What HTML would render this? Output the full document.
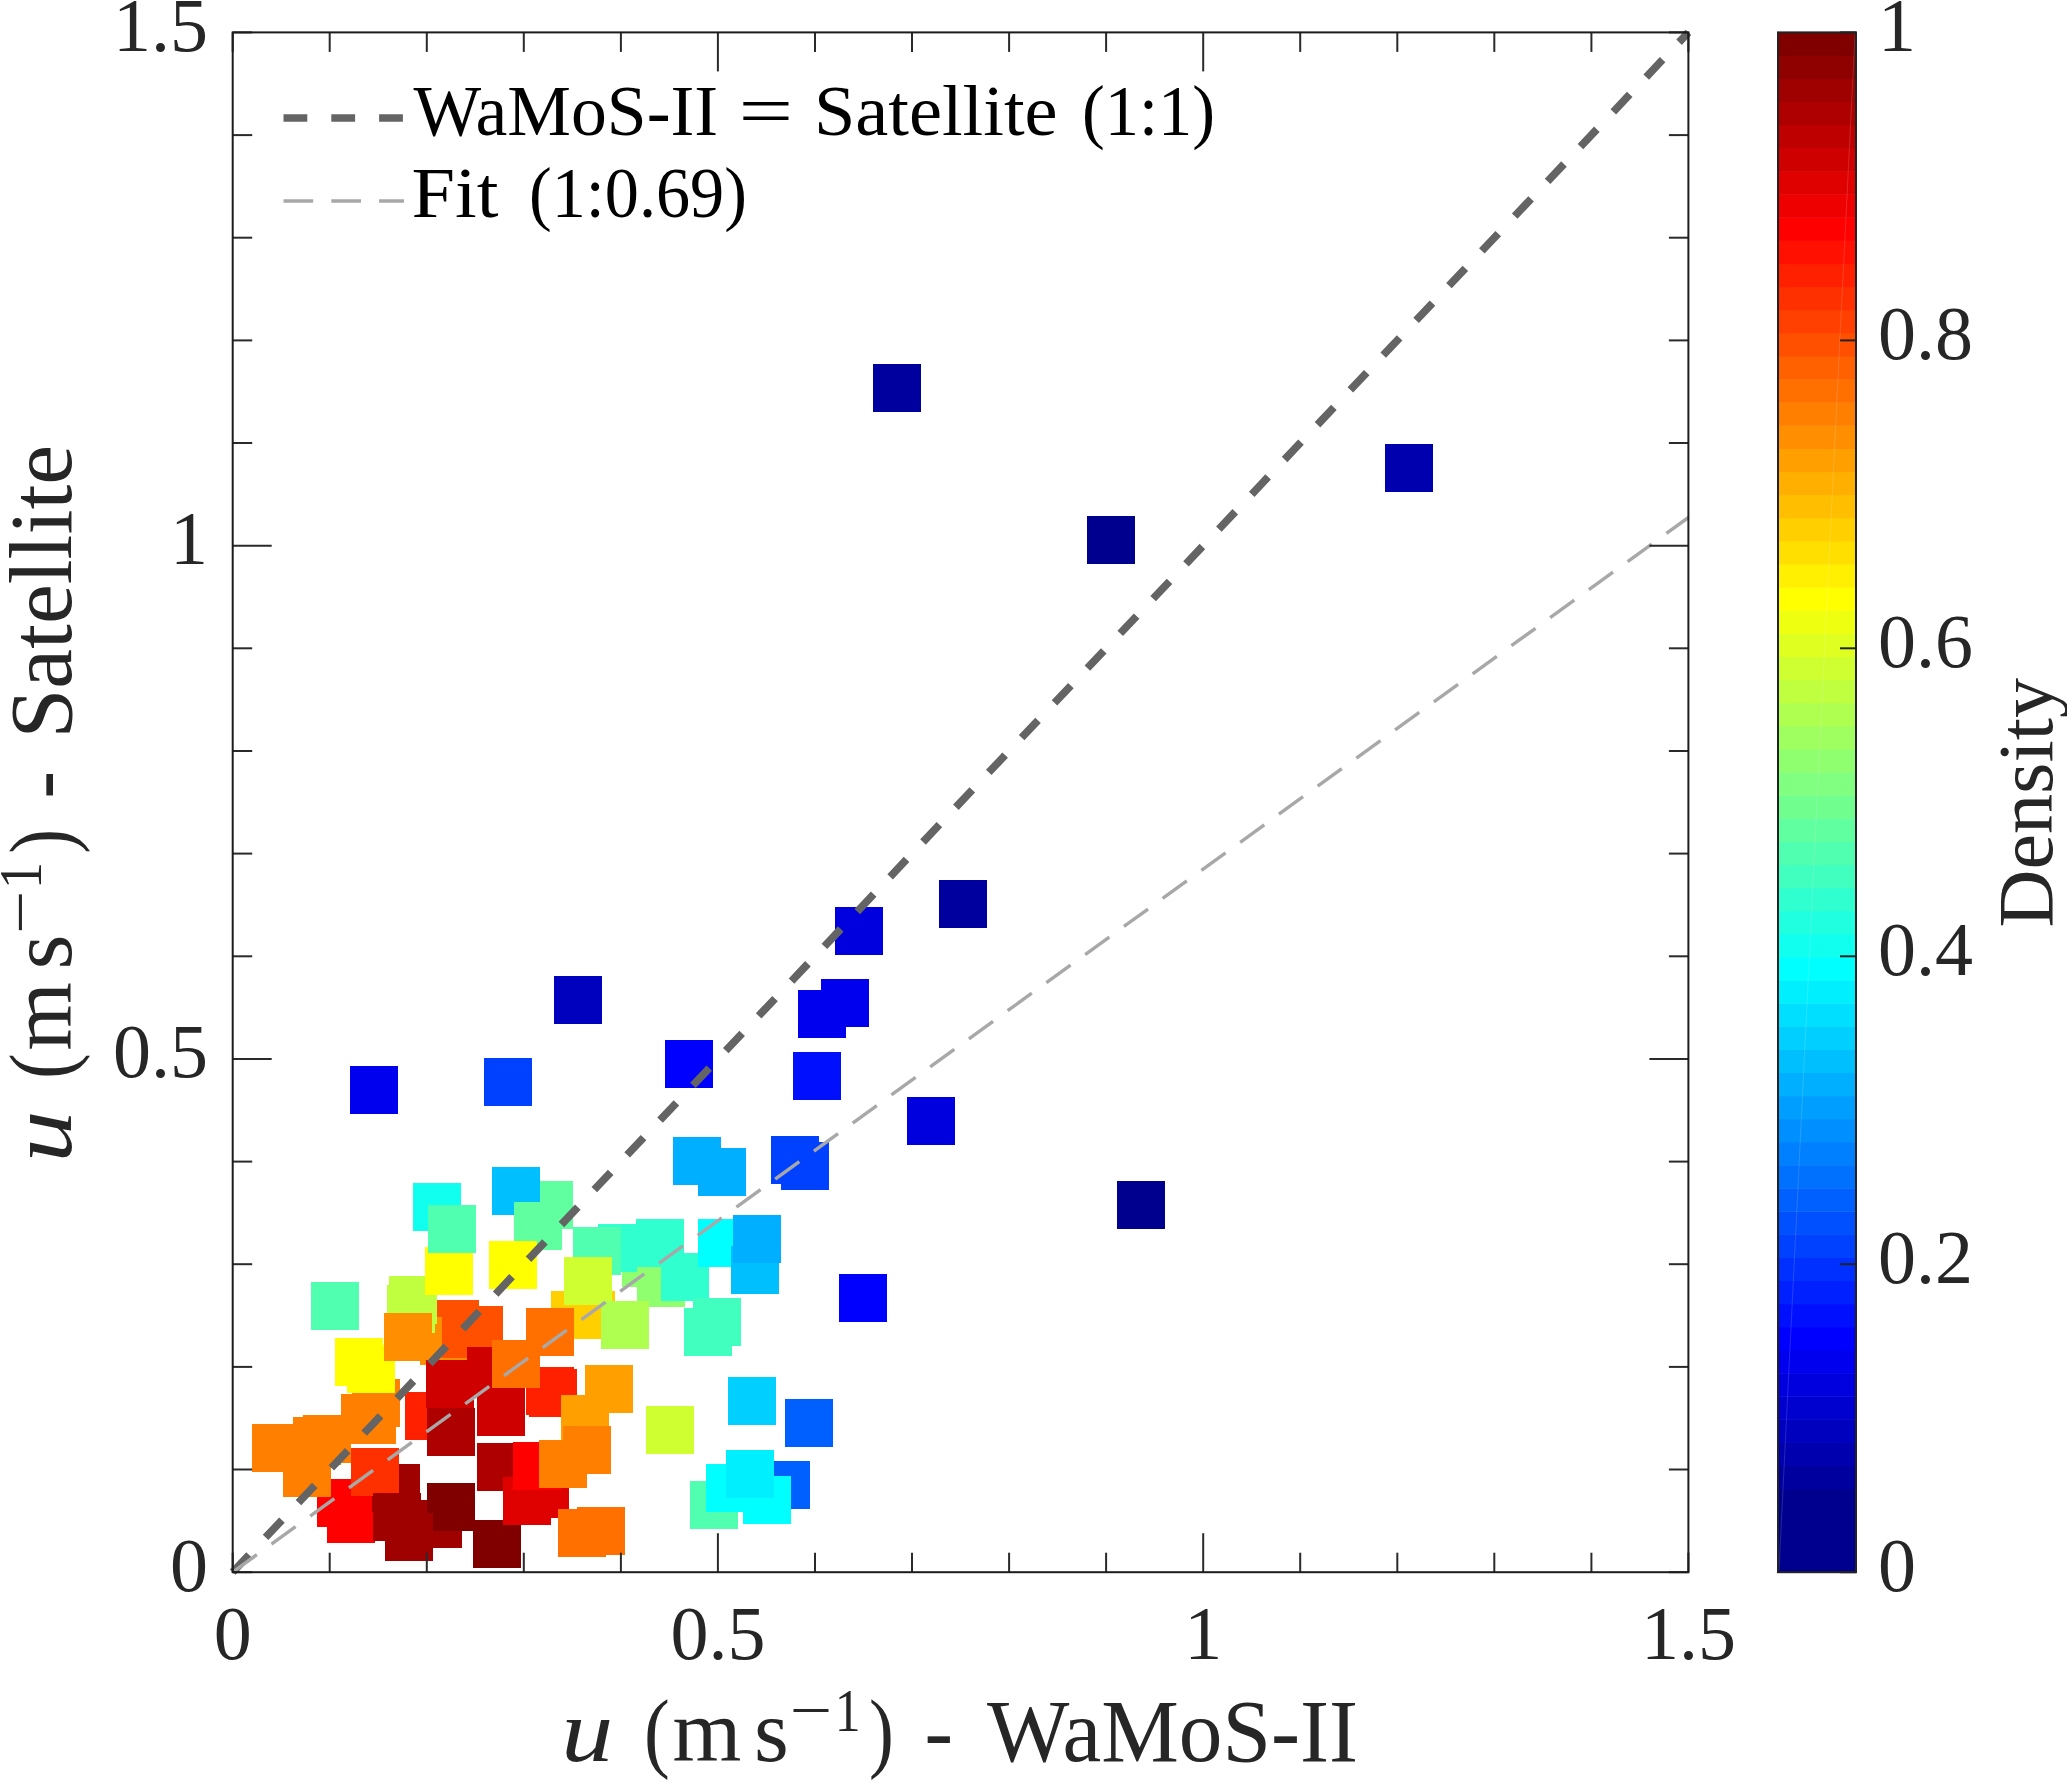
<!DOCTYPE html><html><head><meta charset="utf-8"><style>html,body{margin:0;padding:0;background:#fff;overflow:hidden}svg{display:block}text{font-family:"Liberation Serif",serif}</style></head><body>
<svg width="2067" height="1782" viewBox="0 0 2067 1782">
<rect width="2067" height="1782" fill="#fff"/>
<g shape-rendering="crispEdges">
<rect x="872.6" y="364.4" width="48" height="48" fill="#00009f"/>
<rect x="1087.0" y="515.7" width="48" height="48" fill="#00008f"/>
<rect x="1385.3" y="444.1" width="48" height="48" fill="#0000af"/>
<rect x="939.4" y="880.0" width="48" height="48" fill="#00009f"/>
<rect x="835.0" y="906.7" width="48" height="48" fill="#0000df"/>
<rect x="821.1" y="978.6" width="48" height="48" fill="#0000ef"/>
<rect x="798.2" y="990.0" width="48" height="48" fill="#0000ef"/>
<rect x="792.8" y="1052.2" width="48" height="48" fill="#0010ff"/>
<rect x="906.5" y="1097.2" width="48" height="48" fill="#0000df"/>
<rect x="770.6" y="1136.3" width="48" height="48" fill="#0040ff"/>
<rect x="781.1" y="1141.9" width="48" height="48" fill="#0040ff"/>
<rect x="1117.4" y="1180.7" width="48" height="48" fill="#00008f"/>
<rect x="553.5" y="976.0" width="48" height="48" fill="#0000bf"/>
<rect x="349.8" y="1065.5" width="48" height="48" fill="#0000ef"/>
<rect x="483.7" y="1057.8" width="48" height="48" fill="#0040ff"/>
<rect x="665.2" y="1039.9" width="48" height="48" fill="#0000ff"/>
<rect x="672.5" y="1136.8" width="48" height="48" fill="#00afff"/>
<rect x="697.9" y="1148.0" width="48" height="48" fill="#00afff"/>
<rect x="839.0" y="1274.1" width="48" height="48" fill="#0000ff"/>
<rect x="728.4" y="1377.4" width="48" height="48" fill="#00cfff"/>
<rect x="785.1" y="1399.1" width="48" height="48" fill="#0060ff"/>
<rect x="761.8" y="1460.5" width="48" height="48" fill="#0060ff"/>
<rect x="690.0" y="1480.6" width="48" height="48" fill="#50ffaf"/>
<rect x="706.0" y="1463.8" width="48" height="48" fill="#00ffff"/>
<rect x="742.9" y="1476.3" width="48" height="48" fill="#00ffff"/>
<rect x="726.1" y="1449.7" width="48" height="48" fill="#00efff"/>
<rect x="646.0" y="1405.8" width="48" height="48" fill="#cfff30"/>
<rect x="525.0" y="1181.4" width="48" height="48" fill="#60ff9f"/>
<rect x="492.0" y="1167.2" width="48" height="48" fill="#00bfff"/>
<rect x="514.0" y="1202.0" width="48" height="48" fill="#60ff9f"/>
<rect x="413.3" y="1183.2" width="48" height="48" fill="#10ffef"/>
<rect x="488.7" y="1241.4" width="48" height="48" fill="#ffff00"/>
<rect x="310.5" y="1282.0" width="48" height="48" fill="#50ffaf"/>
<rect x="431.0" y="1300.2" width="48" height="48" fill="#ff5000"/>
<rect x="419.7" y="1316.9" width="48" height="48" fill="#ff8f00"/>
<rect x="454.8" y="1305.5" width="48" height="48" fill="#ff5000"/>
<rect x="441.8" y="1309.7" width="48" height="48" fill="#ff5000"/>
<rect x="389.4" y="1276.4" width="48" height="48" fill="#bfff40"/>
<rect x="387.2" y="1285.3" width="48" height="48" fill="#bfff40"/>
<rect x="425.2" y="1247.0" width="48" height="48" fill="#ffff00"/>
<rect x="427.8" y="1204.7" width="48" height="48" fill="#50ffaf"/>
<rect x="351.9" y="1378.9" width="48" height="48" fill="#ff8000"/>
<rect x="335.2" y="1338.0" width="48" height="48" fill="#ffff00"/>
<rect x="347.0" y="1345.3" width="48" height="48" fill="#ffff00"/>
<rect x="383.6" y="1312.7" width="48" height="48" fill="#ff8f00"/>
<rect x="404.8" y="1391.5" width="48" height="48" fill="#ff2000"/>
<rect x="426.0" y="1359.7" width="48" height="48" fill="#cf0000"/>
<rect x="467.2" y="1347.0" width="48" height="48" fill="#cf0000"/>
<rect x="528.7" y="1369.3" width="48" height="48" fill="#ff2000"/>
<rect x="525.8" y="1367.4" width="48" height="48" fill="#ff2000"/>
<rect x="492.3" y="1340.2" width="48" height="48" fill="#ff7000"/>
<rect x="585.2" y="1364.7" width="48" height="48" fill="#ff9f00"/>
<rect x="560.8" y="1395.4" width="48" height="48" fill="#ff9f00"/>
<rect x="563.3" y="1425.7" width="48" height="48" fill="#ff8000"/>
<rect x="476.5" y="1387.9" width="48" height="48" fill="#cf0000"/>
<rect x="426.9" y="1407.6" width="48" height="48" fill="#af0000"/>
<rect x="477.0" y="1443.3" width="48" height="48" fill="#af0000"/>
<rect x="414.0" y="1500.3" width="48" height="48" fill="#9f0000"/>
<rect x="473.0" y="1519.8" width="48" height="48" fill="#800000"/>
<rect x="426.5" y="1483.0" width="48" height="48" fill="#800000"/>
<rect x="502.8" y="1476.5" width="48" height="48" fill="#df0000"/>
<rect x="521.0" y="1470.0" width="48" height="48" fill="#df0000"/>
<rect x="512.6" y="1441.7" width="48" height="48" fill="#ff0000"/>
<rect x="539.0" y="1440.4" width="48" height="48" fill="#ff8000"/>
<rect x="557.7" y="1508.9" width="48" height="48" fill="#ff7000"/>
<rect x="576.6" y="1507.3" width="48" height="48" fill="#ff7000"/>
<rect x="622.0" y="1238.8" width="48" height="48" fill="#8fff70"/>
<rect x="598.1" y="1224.1" width="48" height="48" fill="#30ffcf"/>
<rect x="572.9" y="1227.0" width="48" height="48" fill="#50ffaf"/>
<rect x="637.3" y="1258.6" width="48" height="48" fill="#8fff70"/>
<rect x="635.8" y="1219.0" width="48" height="48" fill="#30ffcf"/>
<rect x="661.0" y="1253.4" width="48" height="48" fill="#30ffcf"/>
<rect x="698.3" y="1218.7" width="48" height="48" fill="#00ffff"/>
<rect x="731.0" y="1246.0" width="48" height="48" fill="#00bfff"/>
<rect x="733.0" y="1214.5" width="48" height="48" fill="#00afff"/>
<rect x="692.9" y="1297.5" width="48" height="48" fill="#40ffbf"/>
<rect x="683.9" y="1307.9" width="48" height="48" fill="#40ffbf"/>
<rect x="551.4" y="1291.1" width="48" height="48" fill="#ffcf00"/>
<rect x="567.2" y="1290.6" width="48" height="48" fill="#ffcf00"/>
<rect x="525.7" y="1308.2" width="48" height="48" fill="#ff7000"/>
<rect x="563.5" y="1256.6" width="48" height="48" fill="#cfff30"/>
<rect x="601.1" y="1300.5" width="48" height="48" fill="#afff50"/>
<rect x="317.2" y="1478.9" width="48" height="48" fill="#ff0000"/>
<rect x="327.0" y="1494.5" width="48" height="48" fill="#ff0000"/>
<rect x="251.5" y="1424.0" width="48" height="48" fill="#ff8000"/>
<rect x="292.8" y="1416.8" width="48" height="48" fill="#ff8000"/>
<rect x="303.0" y="1415.3" width="48" height="48" fill="#ff8000"/>
<rect x="282.6" y="1448.8" width="48" height="48" fill="#ff8000"/>
<rect x="341.2" y="1394.0" width="48" height="48" fill="#ff8000"/>
<rect x="347.8" y="1395.9" width="48" height="48" fill="#ff8000"/>
<rect x="371.6" y="1464.0" width="48" height="48" fill="#9f0000"/>
<rect x="351.1" y="1448.3" width="48" height="48" fill="#ff3000"/>
<rect x="373.3" y="1492.9" width="48" height="48" fill="#9f0000"/>
<rect x="385.0" y="1512.6" width="48" height="48" fill="#9f0000"/>
</g>
<line x1="232.7" y1="1572.2" x2="1688.4" y2="32.4" stroke="#646464" stroke-width="7.7" stroke-dasharray="23.85 24" stroke-dashoffset="0"/>
<line x1="232.7" y1="1572.2" x2="1688.4" y2="517.5" stroke="#a8a8a8" stroke-width="3.4" stroke-dasharray="29.8 18.05" stroke-dashoffset="0"/>
<g stroke="#2a2a2a" stroke-width="2" fill="none">
<line x1="232.7" y1="1572.2" x2="232.7" y2="1552.7"/>
<line x1="232.7" y1="32.4" x2="232.7" y2="51.9"/>
<line x1="232.7" y1="1572.2" x2="252.2" y2="1572.2"/>
<line x1="1688.4" y1="1572.2" x2="1668.9" y2="1572.2"/>
<line x1="329.7" y1="1572.2" x2="329.7" y2="1552.7"/>
<line x1="329.7" y1="32.4" x2="329.7" y2="51.9"/>
<line x1="232.7" y1="1469.5" x2="252.2" y2="1469.5"/>
<line x1="1688.4" y1="1469.5" x2="1668.9" y2="1469.5"/>
<line x1="426.8" y1="1572.2" x2="426.8" y2="1552.7"/>
<line x1="426.8" y1="32.4" x2="426.8" y2="51.9"/>
<line x1="232.7" y1="1366.9" x2="252.2" y2="1366.9"/>
<line x1="1688.4" y1="1366.9" x2="1668.9" y2="1366.9"/>
<line x1="523.8" y1="1572.2" x2="523.8" y2="1552.7"/>
<line x1="523.8" y1="32.4" x2="523.8" y2="51.9"/>
<line x1="232.7" y1="1264.2" x2="252.2" y2="1264.2"/>
<line x1="1688.4" y1="1264.2" x2="1668.9" y2="1264.2"/>
<line x1="620.9" y1="1572.2" x2="620.9" y2="1552.7"/>
<line x1="620.9" y1="32.4" x2="620.9" y2="51.9"/>
<line x1="232.7" y1="1161.6" x2="252.2" y2="1161.6"/>
<line x1="1688.4" y1="1161.6" x2="1668.9" y2="1161.6"/>
<line x1="717.9" y1="1572.2" x2="717.9" y2="1533.2"/>
<line x1="717.9" y1="32.4" x2="717.9" y2="71.4"/>
<line x1="232.7" y1="1058.9" x2="271.7" y2="1058.9"/>
<line x1="1688.4" y1="1058.9" x2="1649.4" y2="1058.9"/>
<line x1="815.0" y1="1572.2" x2="815.0" y2="1552.7"/>
<line x1="815.0" y1="32.4" x2="815.0" y2="51.9"/>
<line x1="232.7" y1="956.3" x2="252.2" y2="956.3"/>
<line x1="1688.4" y1="956.3" x2="1668.9" y2="956.3"/>
<line x1="912.0" y1="1572.2" x2="912.0" y2="1552.7"/>
<line x1="912.0" y1="32.4" x2="912.0" y2="51.9"/>
<line x1="232.7" y1="853.6" x2="252.2" y2="853.6"/>
<line x1="1688.4" y1="853.6" x2="1668.9" y2="853.6"/>
<line x1="1009.1" y1="1572.2" x2="1009.1" y2="1552.7"/>
<line x1="1009.1" y1="32.4" x2="1009.1" y2="51.9"/>
<line x1="232.7" y1="751.0" x2="252.2" y2="751.0"/>
<line x1="1688.4" y1="751.0" x2="1668.9" y2="751.0"/>
<line x1="1106.1" y1="1572.2" x2="1106.1" y2="1552.7"/>
<line x1="1106.1" y1="32.4" x2="1106.1" y2="51.9"/>
<line x1="232.7" y1="648.3" x2="252.2" y2="648.3"/>
<line x1="1688.4" y1="648.3" x2="1668.9" y2="648.3"/>
<line x1="1203.2" y1="1572.2" x2="1203.2" y2="1533.2"/>
<line x1="1203.2" y1="32.4" x2="1203.2" y2="71.4"/>
<line x1="232.7" y1="545.7" x2="271.7" y2="545.7"/>
<line x1="1688.4" y1="545.7" x2="1649.4" y2="545.7"/>
<line x1="1300.2" y1="1572.2" x2="1300.2" y2="1552.7"/>
<line x1="1300.2" y1="32.4" x2="1300.2" y2="51.9"/>
<line x1="232.7" y1="443.0" x2="252.2" y2="443.0"/>
<line x1="1688.4" y1="443.0" x2="1668.9" y2="443.0"/>
<line x1="1397.3" y1="1572.2" x2="1397.3" y2="1552.7"/>
<line x1="1397.3" y1="32.4" x2="1397.3" y2="51.9"/>
<line x1="232.7" y1="340.4" x2="252.2" y2="340.4"/>
<line x1="1688.4" y1="340.4" x2="1668.9" y2="340.4"/>
<line x1="1494.3" y1="1572.2" x2="1494.3" y2="1552.7"/>
<line x1="1494.3" y1="32.4" x2="1494.3" y2="51.9"/>
<line x1="232.7" y1="237.7" x2="252.2" y2="237.7"/>
<line x1="1688.4" y1="237.7" x2="1668.9" y2="237.7"/>
<line x1="1591.4" y1="1572.2" x2="1591.4" y2="1552.7"/>
<line x1="1591.4" y1="32.4" x2="1591.4" y2="51.9"/>
<line x1="232.7" y1="135.1" x2="252.2" y2="135.1"/>
<line x1="1688.4" y1="135.1" x2="1668.9" y2="135.1"/>
<line x1="1688.4" y1="1572.2" x2="1688.4" y2="1552.7"/>
<line x1="1688.4" y1="32.4" x2="1688.4" y2="51.9"/>
<line x1="232.7" y1="32.4" x2="252.2" y2="32.4"/>
<line x1="1688.4" y1="32.4" x2="1668.9" y2="32.4"/>
</g>
<rect x="232.7" y="32.4" width="1455.7" height="1539.8" fill="none" stroke="#1c1c1c" stroke-width="2"/>
<text x="232.7" y="1659" font-size="76" fill="#262626" text-anchor="middle">0</text>
<text x="208" y="1590.7" font-size="76" fill="#262626" text-anchor="end">0</text>
<text x="717.9" y="1659" font-size="76" fill="#262626" text-anchor="middle">0.5</text>
<text x="208" y="1077.4" font-size="76" fill="#262626" text-anchor="end">0.5</text>
<text x="1203.2" y="1659" font-size="76" fill="#262626" text-anchor="middle">1</text>
<text x="208" y="564.2" font-size="76" fill="#262626" text-anchor="end">1</text>
<text x="1688.4" y="1659" font-size="76" fill="#262626" text-anchor="middle">1.5</text>
<text x="208" y="50.9" font-size="76" fill="#262626" text-anchor="end">1.5</text>
<rect x="1778" y="1488.70" width="78" height="84.00" fill="#00008f"/>
<rect x="1778" y="1465.58" width="78" height="23.62" fill="#00009f"/>
<rect x="1778" y="1442.47" width="78" height="23.62" fill="#0000af"/>
<rect x="1778" y="1419.35" width="78" height="23.62" fill="#0000bf"/>
<rect x="1778" y="1396.24" width="78" height="23.62" fill="#0000cf"/>
<rect x="1778" y="1373.12" width="78" height="23.62" fill="#0000df"/>
<rect x="1778" y="1350.00" width="78" height="23.62" fill="#0000ef"/>
<rect x="1778" y="1326.89" width="78" height="23.62" fill="#0000ff"/>
<rect x="1778" y="1303.77" width="78" height="23.62" fill="#0010ff"/>
<rect x="1778" y="1280.66" width="78" height="23.62" fill="#0020ff"/>
<rect x="1778" y="1257.54" width="78" height="23.62" fill="#0030ff"/>
<rect x="1778" y="1234.43" width="78" height="23.62" fill="#0040ff"/>
<rect x="1778" y="1211.31" width="78" height="23.62" fill="#0050ff"/>
<rect x="1778" y="1188.19" width="78" height="23.62" fill="#0060ff"/>
<rect x="1778" y="1165.08" width="78" height="23.62" fill="#0070ff"/>
<rect x="1778" y="1141.96" width="78" height="23.62" fill="#0080ff"/>
<rect x="1778" y="1118.85" width="78" height="23.62" fill="#008fff"/>
<rect x="1778" y="1095.73" width="78" height="23.62" fill="#009fff"/>
<rect x="1778" y="1072.61" width="78" height="23.62" fill="#00afff"/>
<rect x="1778" y="1049.50" width="78" height="23.62" fill="#00bfff"/>
<rect x="1778" y="1026.38" width="78" height="23.62" fill="#00cfff"/>
<rect x="1778" y="1003.27" width="78" height="23.62" fill="#00dfff"/>
<rect x="1778" y="980.15" width="78" height="23.62" fill="#00efff"/>
<rect x="1778" y="957.03" width="78" height="23.62" fill="#00ffff"/>
<rect x="1778" y="933.92" width="78" height="23.62" fill="#10ffef"/>
<rect x="1778" y="910.80" width="78" height="23.62" fill="#20ffdf"/>
<rect x="1778" y="887.69" width="78" height="23.62" fill="#30ffcf"/>
<rect x="1778" y="864.57" width="78" height="23.62" fill="#40ffbf"/>
<rect x="1778" y="841.46" width="78" height="23.62" fill="#50ffaf"/>
<rect x="1778" y="818.34" width="78" height="23.62" fill="#60ff9f"/>
<rect x="1778" y="795.22" width="78" height="23.62" fill="#70ff8f"/>
<rect x="1778" y="772.11" width="78" height="23.62" fill="#80ff80"/>
<rect x="1778" y="748.99" width="78" height="23.62" fill="#8fff70"/>
<rect x="1778" y="725.88" width="78" height="23.62" fill="#9fff60"/>
<rect x="1778" y="702.76" width="78" height="23.62" fill="#afff50"/>
<rect x="1778" y="679.64" width="78" height="23.62" fill="#bfff40"/>
<rect x="1778" y="656.53" width="78" height="23.62" fill="#cfff30"/>
<rect x="1778" y="633.41" width="78" height="23.62" fill="#dfff20"/>
<rect x="1778" y="610.30" width="78" height="23.62" fill="#efff10"/>
<rect x="1778" y="587.18" width="78" height="23.62" fill="#ffff00"/>
<rect x="1778" y="564.07" width="78" height="23.62" fill="#ffef00"/>
<rect x="1778" y="540.95" width="78" height="23.62" fill="#ffdf00"/>
<rect x="1778" y="517.83" width="78" height="23.62" fill="#ffcf00"/>
<rect x="1778" y="494.72" width="78" height="23.62" fill="#ffbf00"/>
<rect x="1778" y="471.60" width="78" height="23.62" fill="#ffaf00"/>
<rect x="1778" y="448.49" width="78" height="23.62" fill="#ff9f00"/>
<rect x="1778" y="425.37" width="78" height="23.62" fill="#ff8f00"/>
<rect x="1778" y="402.25" width="78" height="23.62" fill="#ff8000"/>
<rect x="1778" y="379.14" width="78" height="23.62" fill="#ff7000"/>
<rect x="1778" y="356.02" width="78" height="23.62" fill="#ff6000"/>
<rect x="1778" y="332.91" width="78" height="23.62" fill="#ff5000"/>
<rect x="1778" y="309.79" width="78" height="23.62" fill="#ff4000"/>
<rect x="1778" y="286.67" width="78" height="23.62" fill="#ff3000"/>
<rect x="1778" y="263.56" width="78" height="23.62" fill="#ff2000"/>
<rect x="1778" y="240.44" width="78" height="23.62" fill="#ff1000"/>
<rect x="1778" y="217.33" width="78" height="23.62" fill="#ff0000"/>
<rect x="1778" y="194.21" width="78" height="23.62" fill="#ef0000"/>
<rect x="1778" y="171.10" width="78" height="23.62" fill="#df0000"/>
<rect x="1778" y="147.98" width="78" height="23.62" fill="#cf0000"/>
<rect x="1778" y="124.86" width="78" height="23.62" fill="#bf0000"/>
<rect x="1778" y="101.75" width="78" height="23.62" fill="#af0000"/>
<rect x="1778" y="78.63" width="78" height="23.62" fill="#9f0000"/>
<rect x="1778" y="55.52" width="78" height="23.62" fill="#8f0000"/>
<rect x="1778" y="32.40" width="78" height="23.62" fill="#800000"/>
</g>
<line x1="1855" y1="34.4" x2="1779" y2="1570.2" stroke="#fff" stroke-opacity="0.15" stroke-width="1"/>
<rect x="1778" y="32.4" width="78" height="1539.8" fill="none" stroke="#222222" stroke-width="2"/>
<line x1="1856" y1="1572.2" x2="1840" y2="1572.2" stroke="#222222" stroke-width="2"/>
<text x="1878" y="1591.2" font-size="76" fill="#262626">0</text>
<line x1="1856" y1="1264.2" x2="1840" y2="1264.2" stroke="#222222" stroke-width="2"/>
<text x="1878" y="1283.2" font-size="76" fill="#262626">0.2</text>
<line x1="1856" y1="956.3" x2="1840" y2="956.3" stroke="#222222" stroke-width="2"/>
<text x="1878" y="975.3" font-size="76" fill="#262626">0.4</text>
<line x1="1856" y1="648.3" x2="1840" y2="648.3" stroke="#222222" stroke-width="2"/>
<text x="1878" y="667.3" font-size="76" fill="#262626">0.6</text>
<line x1="1856" y1="340.4" x2="1840" y2="340.4" stroke="#222222" stroke-width="2"/>
<text x="1878" y="359.4" font-size="76" fill="#262626">0.8</text>
<line x1="1856" y1="32.4" x2="1840" y2="32.4" stroke="#222222" stroke-width="2"/>
<text x="1878" y="51.4" font-size="76" fill="#262626">1</text>
<g>
<text x="561.2" y="1760.8" font-size="89" fill="#262626" font-style="italic" textLength="52.0" lengthAdjust="spacingAndGlyphs">u</text>
<text x="644.0" y="1760.8" font-size="89" fill="#262626" textLength="25.8" lengthAdjust="spacingAndGlyphs">(</text>
<text x="672.6" y="1760.8" font-size="89" fill="#262626" textLength="68.8" lengthAdjust="spacingAndGlyphs">m</text>
<text x="753.9" y="1760.8" font-size="89" fill="#262626" textLength="34.8" lengthAdjust="spacingAndGlyphs">s</text>
<text x="789.8" y="1730.7" font-size="62" fill="#262626" textLength="42.4" lengthAdjust="spacingAndGlyphs">−</text>
<text x="834.8" y="1730.7" font-size="62" fill="#262626" textLength="25.9" lengthAdjust="spacingAndGlyphs">1</text>
<text x="869.0" y="1760.8" font-size="89" fill="#262626" textLength="24.8" lengthAdjust="spacingAndGlyphs">)</text>
<text x="924.4" y="1760.8" font-size="89" fill="#262626" textLength="28.5" lengthAdjust="spacingAndGlyphs">-</text>
<text x="987.0" y="1760.8" font-size="89" fill="#262626" textLength="371.2" lengthAdjust="spacingAndGlyphs">WaMoS-II</text>
</g>
<g transform="translate(71.4,1157.4) rotate(-90)">
<text x="-5.2" y="0" font-size="89" fill="#262626" font-style="italic" textLength="52.0" lengthAdjust="spacingAndGlyphs">u</text>
<text x="78.4" y="0" font-size="89" fill="#262626" textLength="25.8" lengthAdjust="spacingAndGlyphs">(</text>
<text x="106.8" y="0" font-size="89" fill="#262626" textLength="68.3" lengthAdjust="spacingAndGlyphs">m</text>
<text x="187.8" y="0" font-size="89" fill="#262626" textLength="34.9" lengthAdjust="spacingAndGlyphs">s</text>
<text x="223.4" y="-30.1" font-size="62" fill="#262626" textLength="43.4" lengthAdjust="spacingAndGlyphs">−</text>
<text x="268.4" y="-30.1" font-size="62" fill="#262626" textLength="26.9" lengthAdjust="spacingAndGlyphs">1</text>
<text x="303.6" y="0" font-size="89" fill="#262626" textLength="24.8" lengthAdjust="spacingAndGlyphs">)</text>
<text x="359.0" y="0" font-size="89" fill="#262626" textLength="27.5" lengthAdjust="spacingAndGlyphs">-</text>
<text x="418.8" y="0" font-size="89" fill="#262626" textLength="293.7" lengthAdjust="spacingAndGlyphs">Satellite</text>
</g>
<g>
<text x="413.6" y="135" font-size="71.5" fill="#000" textLength="304.6" lengthAdjust="spacingAndGlyphs">WaMoS-II</text>
<text x="738.6" y="135" font-size="71.5" fill="#000" textLength="54.7" lengthAdjust="spacingAndGlyphs">=</text>
<text x="813.9" y="135" font-size="71.5" fill="#000" textLength="243.7" lengthAdjust="spacingAndGlyphs">Satellite</text>
<text x="1082.0" y="135" font-size="71.5" fill="#000" textLength="133.0" lengthAdjust="spacingAndGlyphs">(1:1)</text>
<text x="411.6" y="217" font-size="71.5" fill="#000" textLength="87.0" lengthAdjust="spacingAndGlyphs">Fit</text>
<text x="529.0" y="217" font-size="71.5" fill="#000" textLength="217.9" lengthAdjust="spacingAndGlyphs">(1:0.69)</text>
</g>
<g transform="translate(2051.5,925.6) rotate(-90)">
<text x="-1.8" y="0" font-size="78" fill="#262626" textLength="249.5" lengthAdjust="spacingAndGlyphs">Density</text>
</g>
<line x1="283.5" y1="118" x2="404" y2="118" stroke="#646464" stroke-width="7.7" stroke-dasharray="23.8 24"/>
<line x1="283.5" y1="201" x2="404" y2="201" stroke="#a8a8a8" stroke-width="3.5" stroke-dasharray="29.7 18.1"/>
</svg></body></html>
